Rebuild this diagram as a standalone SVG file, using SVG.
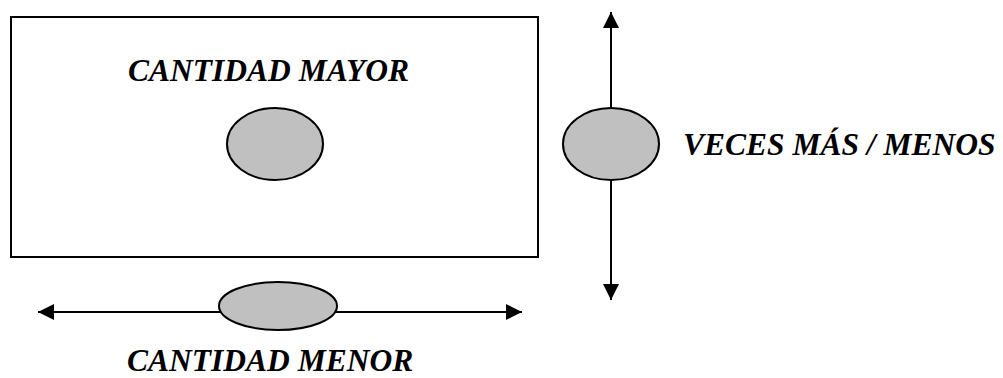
<svg xmlns="http://www.w3.org/2000/svg" width="1003" height="378" viewBox="0 0 1003 378">
<defs>
<style>
.lbl{font-family:"Liberation Serif","Times New Roman",serif;font-weight:bold;font-style:italic;font-size:31.5px;fill:#000}
.node{fill:#c0c0c0;stroke:#000;stroke-width:2}
.conn{stroke:#000;stroke-width:2;fill:none}
.box{fill:#fff;stroke:#000;stroke-width:2}
</style>
<marker id="ah" viewBox="0 0 16 16" refX="16" refY="8" markerWidth="16" markerHeight="16" markerUnits="userSpaceOnUse" orient="auto-start-reverse">
<path d="M0,0 L16,8 L0,16 Z" fill="#000"/>
</marker>
</defs>
<rect width="1003" height="378" fill="#fff"/>
<g id="box-mayor">
<rect class="box" x="11" y="17" width="527" height="240"/>
<text class="lbl" x="128" y="81">CANTIDAD MAYOR</text>
</g>
<g id="connectors">
<line class="conn" x1="611" y1="12" x2="611" y2="300" marker-start="url(#ah)" marker-end="url(#ah)"/>
<line class="conn" x1="38" y1="312" x2="522" y2="312" marker-start="url(#ah)" marker-end="url(#ah)"/>
</g>
<g id="node-center">
<ellipse class="node" cx="275" cy="144" rx="48" ry="36"/>
</g>
<g id="node-veces">
<ellipse class="node" cx="611" cy="144" rx="48" ry="36"/>
<text class="lbl" x="683" y="155">VECES MÁS / MENOS</text>
</g>
<g id="node-menor">
<ellipse class="node" cx="278" cy="306" rx="59" ry="24"/>
<text class="lbl" x="127" y="371">CANTIDAD MENOR</text>
</g>
</svg>
